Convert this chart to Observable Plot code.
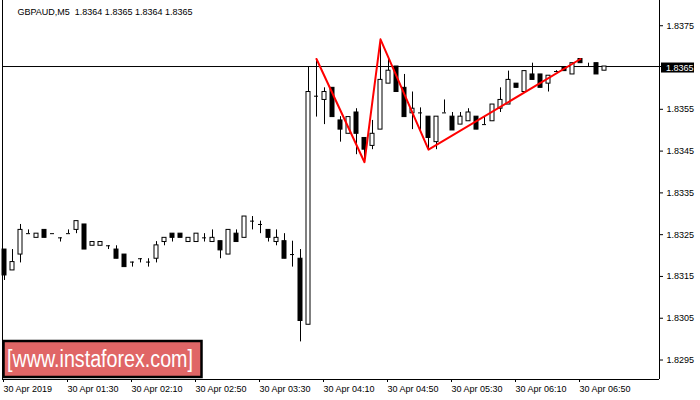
<!DOCTYPE html>
<html><head><meta charset="utf-8">
<script src="https://cdn.jsdelivr.net/npm/d3@7"></script>
<script src="https://cdn.jsdelivr.net/npm/@observablehq/plot@0.6"></script>
<style>body{margin:0;background:#fff}</style>
</head><body><div id="chart"></div>
<script>
const symbolTitle = "GBPAUD,M5\u00a0 1.8364 1.8365 1.8364 1.8365";
const opens = [1.83212,1.83162,1.83200,1.83250,1.83240,1.83259,1.83250,1.83240,1.83250,1.83259,
1.83272,1.83221,1.83221,1.83221,1.83212,1.83200,1.83182,1.83190,1.83182,1.83190,
1.83230,1.83250,1.83250,1.83230,1.83230,1.83240,1.83230,1.83232,1.83200,1.83250,
1.83240,1.83280,1.83272,1.83259,1.83230,1.83232,1.83200,1.83190,1.83032,1.83579,
1.83570,1.83599,1.83521,1.83489,1.83540,1.83479,1.83460,1.83499,1.83609,1.83650,
1.83599,1.83538,1.83539,1.83530,1.83469,1.83539,1.83530,1.83511,1.83519,1.83530,
1.83511,1.83519,1.83549,1.83559,1.83609,1.83589,1.83631,1.83631,1.83609,1.83638,
1.83648,1.83631,1.83668,1.83650,1.83658,1.83640];
const highs = [1.83212,1.83212,1.83272,1.83259,1.83250,1.83259,1.83250,1.83240,1.83259,1.83280,
1.83272,1.83230,1.83230,1.83221,1.83221,1.83200,1.83182,1.83190,1.83190,1.83231,
1.83240,1.83250,1.83250,1.83240,1.83250,1.83250,1.83259,1.83232,1.83259,1.83259,
1.83291,1.83291,1.83280,1.83259,1.83259,1.83250,1.83232,1.83212,1.83650,1.83668,
1.83599,1.83599,1.83530,1.83529,1.83549,1.83479,1.83521,1.83715,1.83668,1.83650,
1.83631,1.83589,1.83551,1.83530,1.83530,1.83570,1.83540,1.83540,1.83549,1.83530,
1.83530,1.83559,1.83599,1.83639,1.83609,1.83639,1.83658,1.83631,1.83628,1.83640,
1.83650,1.83658,1.83668,1.83658,1.83658,1.83650];
const lows = [1.83138,1.83162,1.83180,1.83250,1.83240,1.83240,1.83250,1.83230,1.83250,1.83250,
1.83212,1.83221,1.83221,1.83212,1.83190,1.83170,1.83170,1.83180,1.83170,1.83180,
1.83221,1.83230,1.83240,1.83230,1.83230,1.83230,1.83230,1.83190,1.83200,1.83230,
1.83240,1.83259,1.83250,1.83230,1.83221,1.83190,1.83170,1.82991,1.83032,1.83529,
1.83511,1.83529,1.83469,1.83489,1.83439,1.83421,1.83451,1.83499,1.83609,1.83589,
1.83529,1.83499,1.83497,1.83451,1.83451,1.83539,1.83497,1.83511,1.83519,1.83499,
1.83511,1.83519,1.83540,1.83559,1.83599,1.83589,1.83618,1.83599,1.83589,1.83636,
1.83639,1.83631,1.83658,1.83650,1.83631,1.83640];
const closes = [1.83150,1.83182,1.83259,1.83250,1.83250,1.83240,1.83250,1.83240,1.83250,1.83280,
1.83212,1.83230,1.83230,1.83221,1.83190,1.83170,1.83182,1.83190,1.83182,1.83222,
1.83240,1.83240,1.83240,1.83240,1.83250,1.83240,1.83240,1.83210,1.83259,1.83230,
1.83291,1.83280,1.83272,1.83240,1.83240,1.83190,1.83200,1.83041,1.83589,1.83579,
1.83589,1.83529,1.83499,1.83529,1.83489,1.83451,1.83489,1.83618,1.83640,1.83589,
1.83529,1.83549,1.83539,1.83479,1.83530,1.83539,1.83497,1.83530,1.83540,1.83499,
1.83511,1.83559,1.83570,1.83618,1.83599,1.83639,1.83618,1.83599,1.83628,1.83638,
1.83639,1.83658,1.83658,1.83650,1.83631,1.83650];
const timeLabels = ["30 Apr 2019","30 Apr 01:30","30 Apr 02:10","30 Apr 02:50","30 Apr 03:30","30 Apr 04:10","30 Apr 04:50","30 Apr 05:30","30 Apr 06:10","30 Apr 06:50"];
const labelIdx = [0,8,16,24,32,40,48,56,64,72];
const yTicks = [1.8295,1.8305,1.8315,1.8325,1.8335,1.8345,1.8355,1.8365,1.8375];
const patternIdx = [39,45,47,53,72];
const patternPrice = [1.83668,1.83421,1.83715,1.83451,1.83668];
const lastPrice = 1.8365;
const watermark = "[www.instaforex.com]";

const candles = opens.map((o,i)=>({i, open:o, high:highs[i], low:lows[i], close:closes[i]}));
const whiteBodies = candles.filter(d=>d.close>d.open);
const blackBodies = candles.filter(d=>d.close<d.open);
const dojis = candles.filter(d=>d.close===d.open);
const pattern = patternIdx.map((i,k)=>({i, p:patternPrice[k]}));
const xDom = [-0.25, 81.875];
const yDom = [1.82901, 1.83808];
const axisTicks = yTicks.filter(t=>Math.abs(t-lastPrice)>1e-9);

const plot = Plot.plot({
  width:700, height:400,
  marginLeft:2, marginRight:41, marginTop:0, marginBottom:21,
  style:{fontFamily:"'Liberation Sans', Arial, sans-serif", fontSize:"9px", color:"#000", background:"#fff", overflow:"visible"},
  x:{domain:xDom},
  y:{domain:yDom},
  marks:[
    Plot.ruleY([lastPrice], {stroke:"#000"}),
    Plot.ruleX(candles, {x:"i", y1:"low", y2:"high", stroke:"#000"}),
    Plot.rect(whiteBodies, {x1:d=>d.i-0.25, x2:d=>d.i+0.25, y1:"open", y2:"close", fill:"#fff", stroke:"#000"}),
    Plot.rect(blackBodies, {x1:d=>d.i-0.25, x2:d=>d.i+0.25, y1:"open", y2:"close", fill:"#000", stroke:"#000"}),
    Plot.ruleY(dojis, {y:"open", x1:d=>d.i-0.25, x2:d=>d.i+0.25, stroke:"#000"}),
    Plot.line(pattern, {x:"i", y:"p", stroke:"#ff0000", strokeWidth:2}),
    Plot.ruleX(xDom, {stroke:"#000"}),
    Plot.ruleY([yDom[0]], {stroke:"#000"}),
    Plot.axisY({anchor:"right", ticks:axisTicks, tickFormat:d3.format(".4f"), tickSize:3, tickPadding:4, label:null, dy:1}),
    Plot.axisX({ticks:labelIdx, tickFormat:d=>timeLabels[labelIdx.indexOf(d)], tickSize:3, tickPadding:3, textAnchor:"start", dx:-1, label:null}),
    Plot.text([symbolTitle], {frameAnchor:"top-left", dx:15, dy:8.5, textAnchor:"start", lineAnchor:"top"})
  ]
});
document.getElementById("chart").appendChild(plot);

const svg = d3.select(plot);
const yp = plot.scale("y").apply(lastPrice);
const lab = svg.append("g").attr("text-anchor","start");
lab.append("line").attr("x1",659).attr("x2",663).attr("y1",Math.round(yp)+0.5).attr("y2",Math.round(yp)+0.5).attr("stroke","#000");
lab.append("rect").attr("x",661).attr("y",yp-3.5).attr("width",33).attr("height",10).attr("fill","#000");
lab.append("text").attr("x",666).attr("y",yp+4.7).attr("fill","#fff").attr("font-size",9).text(d3.format(".4f")(lastPrice));

const wm = svg.append("g").attr("text-anchor","start");
wm.append("rect").attr("x",3.5).attr("y",341).attr("width",198).attr("height",36).attr("fill","#e06666").attr("stroke","#000").attr("stroke-width",2.5);
wm.append("text").attr("x",7).attr("y",367).attr("fill","#fff").attr("font-size",23)
  .attr("font-family","'Liberation Sans', Arial, sans-serif")
  .attr("textLength",186).attr("lengthAdjust","spacingAndGlyphs").text(watermark);
</script>
</body></html>
